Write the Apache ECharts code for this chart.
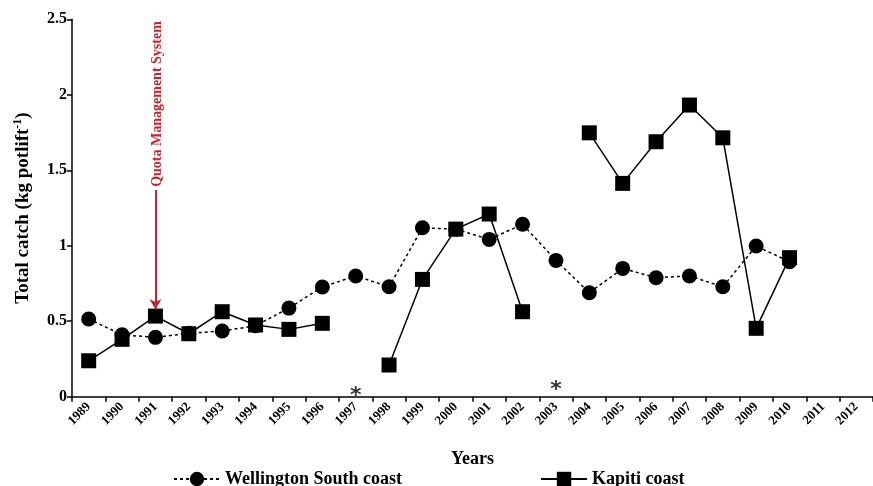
<!DOCTYPE html>
<html>
<head>
<meta charset="utf-8">
<script src="https://cdn.jsdelivr.net/npm/echarts@6/dist/echarts.min.js"></script>
<style>html,body{margin:0;padding:0;background:#fff;}#c{width:873px;height:486px;}</style>
</head>
<body>
<div id="c"></div>
<script>
var years = ['1989','1990','1991','1992','1993','1994','1995','1996','1997','1998','1999','2000','2001','2002','2003','2004','2005','2006','2007','2008','2009','2010','2011','2012'];
var wellington = [0.515,0.41,0.393,0.42,0.435,0.47,0.587,0.727,0.80,0.728,1.119,1.11,1.042,1.142,0.903,0.689,0.85,0.788,0.80,0.728,0.998,0.894,null,null];
var kapiti = [0.238,0.38,0.534,0.417,0.563,0.475,0.446,0.486,null,0.21,0.777,1.11,1.21,0.563,null,1.748,1.413,1.689,1.932,1.715,0.453,0.921,null,null];
var missingYears = [['1997',0.0],['2003',0.045]];
var yTicks = {min:0, max:2.5, interval:0.5};
var quotaYear = '1991';
var quotaArrow = [1.37, 0.58];

var serif = 'Liberation Serif';
var chart = echarts.init(document.getElementById('c'), null, {renderer:'canvas'});
chart.setOption({
  animation:false,
  backgroundColor:'#fff',
  grid:{left:72, right:-6, top:19.3, bottom:89.3, containLabel:false},
  xAxis:{
    type:'category', data:years, boundaryGap:true,
    axisLine:{lineStyle:{color:'#000', width:1.5}},
    axisTick:{show:true, length:5, lineStyle:{color:'#000', width:1.5}},
    axisLabel:{rotate:45, margin:8, color:'#000', fontFamily:serif, fontWeight:'bold', fontSize:13, interval:0},
    splitLine:{show:false},
    name:'Years', nameLocation:'middle', nameGap:54,
    nameTextStyle:{color:'#000', fontFamily:serif, fontWeight:'bold', fontSize:18}
  },
  yAxis:{
    type:'value', min:yTicks.min, max:yTicks.max, interval:yTicks.interval,
    axisLine:{show:true, lineStyle:{color:'#000', width:1.5}},
    axisTick:{show:true, length:5, lineStyle:{color:'#000', width:1.5}},
    axisLabel:{color:'#000', fontFamily:serif, fontWeight:'bold', fontSize:16, margin:5},
    splitLine:{show:false},
    name:'{a|Total catch (kg potlift}{s|-1}{a|)}',
    nameLocation:'middle', nameGap:38,
    nameTextStyle:{color:'#000', fontFamily:serif, fontWeight:'bold', fontSize:19,
      rich:{a:{fontFamily:serif, fontWeight:'bold', fontSize:19, color:'#000', lineHeight:22},
            s:{fontFamily:serif, fontWeight:'bold', fontSize:12, color:'#000', verticalAlign:'top', lineHeight:22}}}
  },
  legend:{
    data:['Wellington South coast','Kapiti coast'],
    left:168, top:465, itemWidth:46, itemHeight:18, itemGap:138,
    textStyle:{color:'#000', fontFamily:serif, fontWeight:'bold', fontSize:18, padding:[0,0,0,0]}
  },
  graphic:[
    {type:'text', x:157, y:104, rotation:Math.PI/2,
     style:{text:'Quota Management System', fill:'#cc2229', font:'bold 14px "Liberation Serif"', align:'center', verticalAlign:'middle'}}
  ],
  series:[
    {name:'Wellington South coast', type:'line', data:wellington, symbol:'circle', symbolSize:15,
     itemStyle:{color:'#000'}, lineStyle:{color:'#000', width:1.5, type:[3,3]}, z:2},
    {name:'Kapiti coast', type:'line', data:kapiti, symbol:'rect', symbolSize:15, connectNulls:false,
     itemStyle:{color:'#000'}, lineStyle:{color:'#000', width:1.5, type:'solid'}, z:3,
     markLine:{silent:true, symbol:['none','arrow'], symbolSize:[9,10],
       lineStyle:{color:'#cc2229', width:2, type:'solid'}, label:{show:false},
       data:[[{coord:[quotaYear, quotaArrow[0]]},{coord:[quotaYear, quotaArrow[1]]}]]}},
    {name:'missing', type:'scatter', data:missingYears, symbolSize:1, itemStyle:{color:'rgba(0,0,0,0)'},
     label:{show:true, position:'inside', formatter:'*', color:'#000', fontFamily:'DejaVu Sans', fontWeight:'bold', fontSize:22}, z:1}
  ]
});
</script>
</body>
</html>
